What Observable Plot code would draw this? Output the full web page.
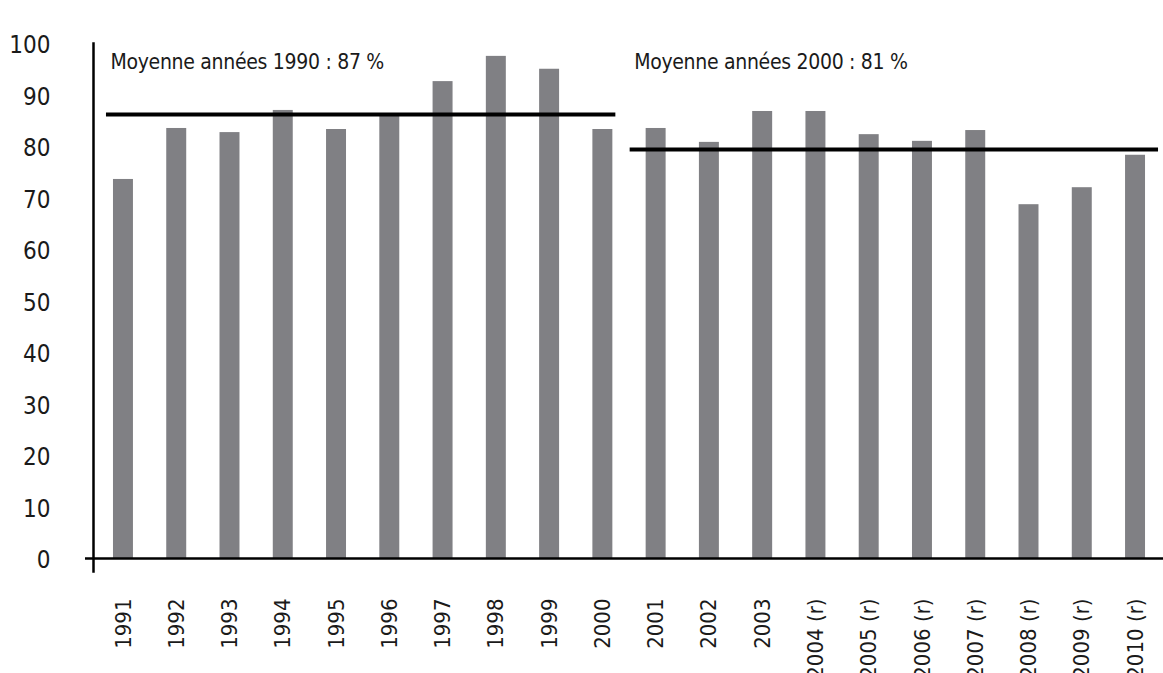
<!DOCTYPE html>
<html>
<head>
<meta charset="utf-8">
<script src="https://cdn.jsdelivr.net/npm/d3@7"></script>
<script src="https://cdn.jsdelivr.net/npm/@observablehq/plot@0.6"></script>
<style>
  html, body { margin: 0; padding: 0; background: #fff; }
  #chart svg { display: block; }
  .annot text { letter-spacing: -0.3px; }
</style>
</head>
<body>
<div id="chart"></div>
<script>
const years = ["1991","1992","1993","1994","1995","1996","1997","1998","1999","2000",
  "2001","2002","2003","2004 (r)","2005 (r)","2006 (r)","2007 (r)","2008 (r)","2009 (r)","2010 (r)"];
const values = [73.6, 83.5, 82.7, 87.0, 83.3, 86.2, 92.6, 97.5, 95.0, 83.3,
  83.5, 80.8, 86.8, 86.8, 82.3, 81.0, 83.1, 68.7, 72.0, 78.3];
const yTicks = [0,10,20,30,40,50,60,70,80,90,100];
const averages = [
  {from: "1991", to: "2000", value: 86.2, label: "Moyenne années 1990 : 87 %"},
  {from: "2001", to: "2010 (r)", value: 79.4, label: "Moyenne années 2000 : 81 %"}
];
const labelY = 95;

const data = years.map((y, i) => ({year: y, value: values[i]}));

const chart = Plot.plot({
  width: 1163,
  height: 673,
  marginLeft: 93,
  marginRight: 0,
  marginTop: 43,
  marginBottom: 115,
  style: {fontFamily: "'DejaVu Sans Condensed', 'DejaVu Sans', sans-serif", color: "#1a1a1a", background: "#fff"},
  x: {domain: years, range: [93, 1165], round: false, padding: 0.625, paddingOuter: 0.375, label: null},
  y: {domain: [0, 100], label: null},
  marks: [
    Plot.barY(data, {x: "year", y: "value", fill: "#808084"}),
    Plot.ruleY([0], {stroke: "#000", strokeWidth: 2.5, insetLeft: -8}),
    Plot.frame({anchor: "left", stroke: "#000", strokeWidth: 2.5, insetBottom: -13}),
    Plot.ruleY([averages[0]], {x1: "from", x2: "to", y: "value", stroke: "#000", strokeWidth: 4, insetLeft: -7, insetRight: -3}),
    Plot.ruleY([averages[1]], {x1: "from", x2: "to", y: "value", stroke: "#000", strokeWidth: 4, insetLeft: -16, insetRight: -13}),
    Plot.text([averages[0]], {x: "from", y: () => labelY, text: "label", textAnchor: "start", lineAnchor: "bottom", dx: -13, fontSize: 21, fill: "#1a1a1a", className: "annot"}),
    Plot.text([averages[1]], {x: "from", y: () => labelY, text: "label", textAnchor: "start", lineAnchor: "bottom", dx: -22, fontSize: 21, fill: "#1a1a1a", className: "annot"}),
    Plot.axisY({ticks: yTicks, tickSize: 0, tickPadding: 43, fontSize: 24, tickFormat: d => String(d), fill: "#1a1a1a", dy: 2}),
    Plot.axisX({tickSize: 0, tickPadding: 40, tickRotate: -90, fontSize: 22, fill: "#1a1a1a"})
  ]
});
document.getElementById("chart").appendChild(chart);
</script>
</body>
</html>
